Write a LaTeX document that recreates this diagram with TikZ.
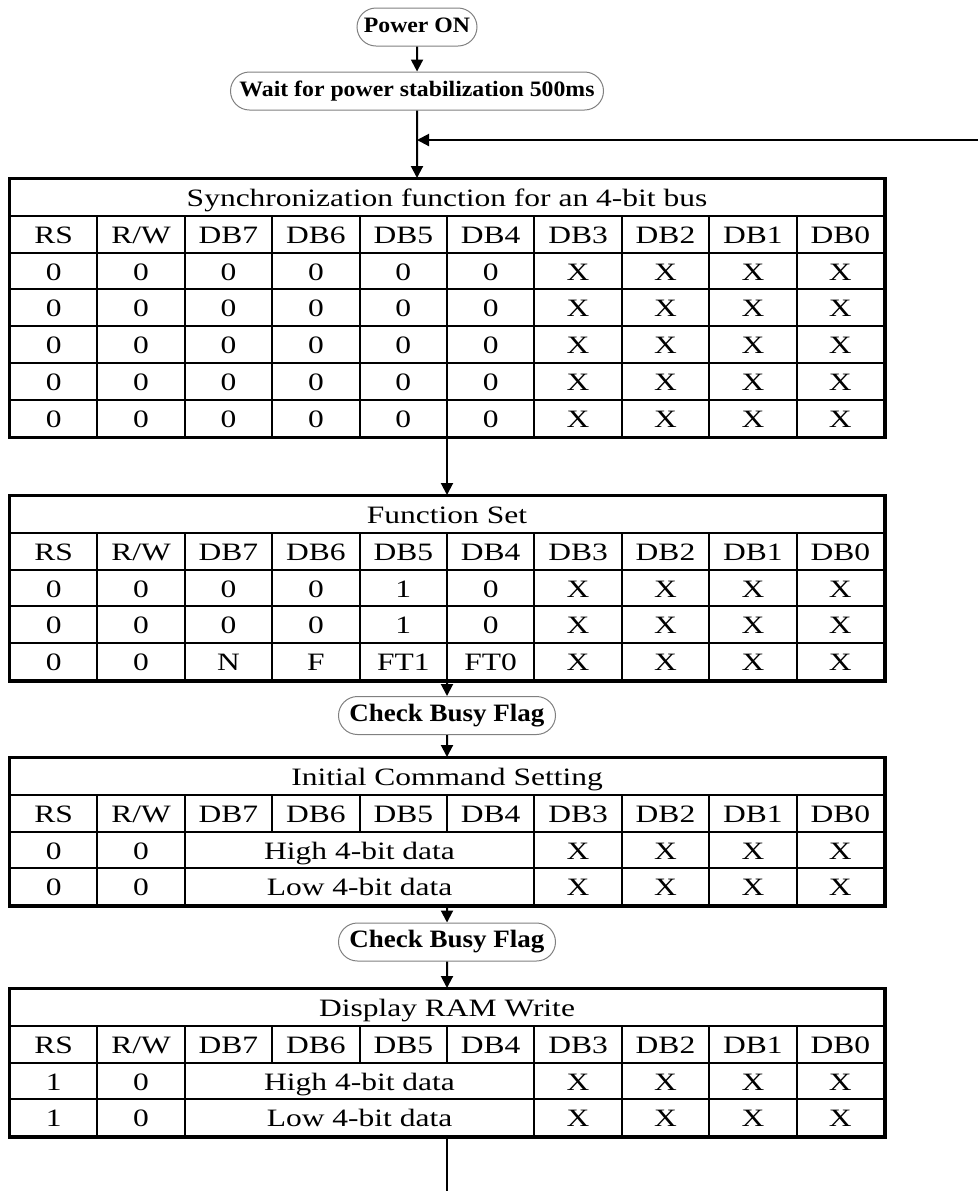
\documentclass[tikz,border=0pt]{standalone}
\usepackage{fontspec}
\setmainfont{Liberation Serif}
\newfontfamily\tabfont[FakeStretch=1.26]{Liberation Serif}
\newfontfamily\stepfont[FakeStretch=1.08]{Liberation Serif}
\usetikzlibrary{arrows.meta,shapes.misc}

\tikzset{
  cell/.style={draw,line width=1pt,minimum width=43.7pt,minimum height=18.4pt,inner sep=0pt,
    text height=2.2ex,text depth=.2ex,font=\tabfont\fontsize{12.5}{13}\selectfont},
  title/.style={cell,minimum width=437pt},
  wide/.style={cell,minimum width=174.8pt},
  frame/.style={line width=1.5pt},
  stepnode/.style={draw=gray,line width=0.5pt,rounded rectangle,minimum height=19pt,inner sep=1pt,
    text height=1.5ex,text depth=.3ex,font=\stepfont\bfseries\fontsize{11}{12}\selectfont},
  checknode/.style={stepnode,minimum width=110.5pt,font=\stepfont\bfseries\fontsize{12.5}{13}\selectfont},
  flow/.style={line width=1pt,-{Triangle[length=6pt,width=6pt]}}
}

\begin{document}
\begin{tikzpicture}[x=0.5pt,y=-0.5pt]
    \useasboundingbox (0,0) rectangle (978,1191);
    % start
    \node[stepnode,minimum width=62pt] (on) at (417,27) {Power ON};
    \node[stepnode,minimum width=188.5pt] (wait) at (417,91) {Wait for power stabilization 500ms};
    % sync table
    \node[title] (sync) at (447,197.4) {Synchronization function for an 4-bit bus};
    \foreach \lab [count=\i] in {RS,R/W,DB7,DB6,DB5,DB4,DB3,DB2,DB1,DB0}
        \node[cell] (sync-h\i) at ({53.7+87.4*(\i-1)},234.2) {\lab};
    \foreach \r in {1,...,5}
        \foreach \lab [count=\i] in {0,0,0,0,0,0,X,X,X,X}
            \node[cell] (sync-\r-\i) at ({53.7+87.4*(\i-1)},{234.2+36.8*\r}) {\lab};
    \draw[frame] (sync.north west) rectangle (sync-5-10.south east);
    % function set
    \node[title] (fset) at (447,514.4) {Function Set};
    \foreach \lab [count=\i] in {RS,R/W,DB7,DB6,DB5,DB4,DB3,DB2,DB1,DB0}
        \node[cell] (fset-h\i) at ({53.7+87.4*(\i-1)},551.2) {\lab};
    \foreach \r in {1,2}
        \foreach \lab [count=\i] in {0,0,0,0,1,0,X,X,X,X}
            \node[cell] (fset-\r-\i) at ({53.7+87.4*(\i-1)},{551.2+36.8*\r}) {\lab};
    \foreach \lab [count=\i] in {0,0,N,F,FT1,FT0,X,X,X,X}
        \node[cell] (fset-3-\i) at ({53.7+87.4*(\i-1)},661.6) {\lab};
    \draw[frame] (fset.north west) rectangle (fset-3-10.south east);
    \node[checknode] (busy1) at (447,715.5) {Check Busy Flag};
    % initial command
    \node[title] (init) at (447,776.4) {Initial Command Setting};
    \foreach \lab [count=\i] in {RS,R/W,DB7,DB6,DB5,DB4,DB3,DB2,DB1,DB0}
        \node[cell] (init-h\i) at ({53.7+87.4*(\i-1)},813.2) {\lab};
    \foreach \r/\half in {1/High,2/Low} {
        \node[cell] (init-\r-1) at (53.7,{813.2+36.8*\r}) {0};
        \node[cell] (init-\r-2) at (141.1,{813.2+36.8*\r}) {0};
        \node[wide] (init-\r-d) at (359.6,{813.2+36.8*\r}) {\half{} 4-bit data};
        \foreach \i in {7,...,10}
            \node[cell] (init-\r-\i) at ({53.7+87.4*(\i-1)},{813.2+36.8*\r}) {X};
    }
    \draw[frame] (init.north west) rectangle (init-2-10.south east);
    \node[checknode] (busy2) at (447,942) {Check Busy Flag};
    % display ram write
    \node[title] (ram) at (447,1007.4) {Display RAM Write};
    \foreach \lab [count=\i] in {RS,R/W,DB7,DB6,DB5,DB4,DB3,DB2,DB1,DB0}
        \node[cell] (ram-h\i) at ({53.7+87.4*(\i-1)},1044.2) {\lab};
    \foreach \r/\half in {1/High,2/Low} {
        \node[cell] (ram-\r-1) at (53.7,{1044.2+36.8*\r}) {1};
        \node[cell] (ram-\r-2) at (141.1,{1044.2+36.8*\r}) {0};
        \node[wide] (ram-\r-d) at (359.6,{1044.2+36.8*\r}) {\half{} 4-bit data};
        \foreach \i in {7,...,10}
            \node[cell] (ram-\r-\i) at ({53.7+87.4*(\i-1)},{1044.2+36.8*\r}) {X};
    }
    \draw[frame] (ram.north west) rectangle (ram-2-10.south east);
    % connectors
    \coordinate (back) at (978,140);
    \coordinate (exit) at (447,1191);
    \draw[flow] (on) -- (wait);
    \draw[flow] (wait) -- (wait |- sync.north);
    \draw[flow] (back) -- (back -| wait);
    \draw[flow] (sync |- sync-5-1.south) -- (fset.north);
    \draw[flow] (fset |- fset-3-1.south) -- (busy1);
    \draw[flow] (busy1) -- (init.north);
    \draw[flow] (init |- init-2-1.south) -- (busy2);
    \draw[flow] (busy2) -- (ram.north);
    \draw[line width=1pt] (ram |- ram-2-1.south) -- (exit);
\end{tikzpicture}
\end{document}
